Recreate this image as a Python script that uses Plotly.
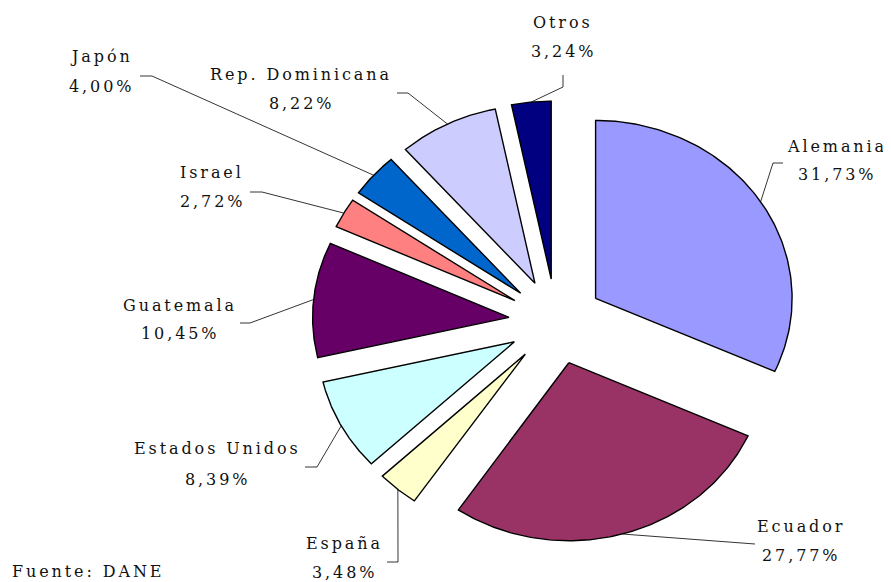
import numpy as np
import plotly.graph_objects as go

# data
countries = ["Alemania", "Ecuador", "España", "Estados Unidos", "Guatemala",
             "Israel", "Japón", "Rep. Dominicana", "Otros"]
shares = [31.73, 27.77, 3.48, 8.39, 10.45, 2.72, 4.00, 8.22, 3.24]
colors = ["#9999FF", "#993366", "#FFFFCC", "#CCFFFF", "#660066",
          "#FF8080", "#0066CC", "#CCCCFF", "#000080"]
source = "Fuente: DANE"

# page geometry (pixels) -> axis scaling makes the unit circle an ellipse
W, H = 891, 582
OFF = 8                 # the page body margin shifts the figure by this much
CX, CY = 556, 321.6     # pie centre in page pixels
SX, SY = 196.5, 178     # pixels per unit radius
PULL = 0.24

# label layout in page pixels: centre x, name y, value y, elbow, end of leader
labels = {
    "Alemania": (837, 146, 174.5, (773, 163), (783, 163)),
    "Ecuador": (801, 526.3, 555.5, (755, 544), (755, 544)),
    "España": (344, 543, 572, (398, 562), (387, 562)),
    "Estados Unidos": (217, 448.3, 479, (317, 467), (305, 467)),
    "Guatemala": (180, 305, 333.3, (250, 323), (240, 323)),
    "Israel": (212, 172.5, 202, (262, 192), (250, 192)),
    "Japón": (101, 56.3, 86.7, (152, 76), (140, 76)),
    "Rep. Dominicana": (301, 74.7, 104, (408, 93), (397, 93)),
    "Otros": (563, 22, 51.7, (563, 87), (563, 75)),
}

FONT = "DejaVu Serif"
SPACING = "letter-spacing:2.9px"


def dx(px):
    return (px - CX) / SX


def dy(py):
    return (CY - py) / SY


def paper_x(px):
    return (px - OFF) / W


def paper_y(py):
    return 1 - (py - OFF) / H


fig = go.Figure()

total = sum(shares)
start = 0.0
for name, val, col in zip(countries, shares, colors):
    a0 = start / total * 2 * np.pi
    a1 = (start + val) / total * 2 * np.pi
    mid = (a0 + a1) / 2
    ox, oy = PULL * np.sin(mid), PULL * np.cos(mid)
    t = np.linspace(a0, a1, 120)
    xs = np.concatenate([[ox], ox + np.sin(t), [ox]])
    ys = np.concatenate([[oy], oy + np.cos(t), [oy]])
    fig.add_trace(go.Scatter(x=xs, y=ys, mode="lines", fill="toself",
                             fillcolor=col, line=dict(color="black", width=1.4),
                             hoverinfo="skip"))

    # leader line from the middle of the arc to the label
    lx, ly_name, ly_val, elbow, end = labels[name]
    fig.add_trace(go.Scatter(
        x=[ox + np.sin(mid), dx(elbow[0]), dx(end[0])],
        y=[oy + np.cos(mid), dy(elbow[1]), dy(end[1])],
        mode="lines", line=dict(color="black", width=0.8), hoverinfo="skip"))

    txt = f"{val:.2f}".replace(".", ",") + "%"
    for s, yy in ((name, ly_name), (txt, ly_val)):
        fig.add_annotation(x=paper_x(lx), y=paper_y(yy), xref="paper", yref="paper",
                           text=f'<span style="{SPACING}">{s}</span>',
                           showarrow=False, xanchor="center", yanchor="middle",
                           font=dict(family=FONT, size=16, color="#111111"))
    start += val

fig.add_annotation(x=paper_x(10), y=paper_y(571), xref="paper", yref="paper",
                   text=f'<span style="{SPACING}">{source}</span>',
                   showarrow=False, xanchor="left", yanchor="middle",
                   font=dict(family=FONT, size=16, color="#111111"))

fig.update_layout(
    width=W, height=H,
    margin=dict(l=0, r=0, t=0, b=0),
    showlegend=False,
    plot_bgcolor="white", paper_bgcolor="white",
    xaxis=dict(range=[dx(OFF), dx(W + OFF)], visible=False, fixedrange=True),
    yaxis=dict(range=[dy(H + OFF), dy(OFF)], visible=False, fixedrange=True),
)

fig.write_html("out.html")
